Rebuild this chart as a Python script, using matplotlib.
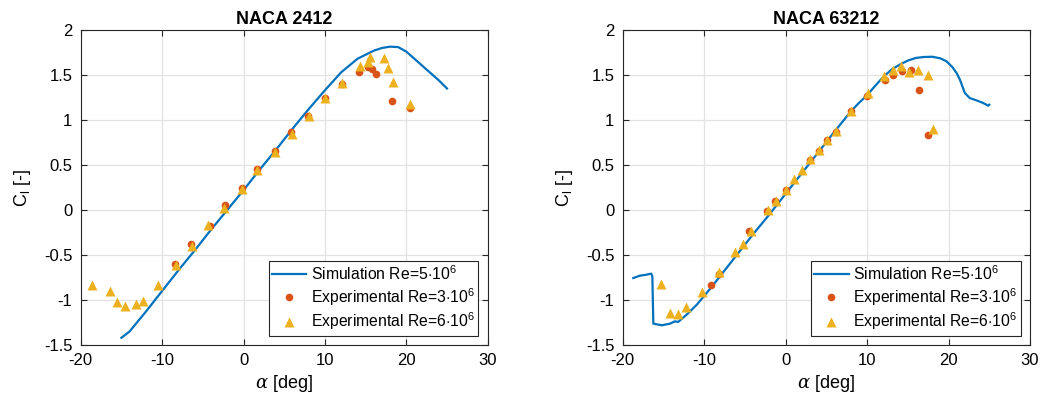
import numpy as np
import matplotlib
matplotlib.use('Agg')
import matplotlib.pyplot as plt

plt.rcParams['font.family'] = ['Liberation Sans', 'DejaVu Sans']
plt.rcParams['mathtext.fontset'] = 'custom'
plt.rcParams['mathtext.rm'] = 'Liberation Sans'
plt.rcParams['mathtext.it'] = 'DejaVu Serif:italic'

# NACA 2412
sim1_a = [-15, -14, -12, -10, -8, -6, -4, -2, 0, 2, 4, 6, 8, 10, 12, 14, 16, 17, 18, 19, 20, 21, 22, 23, 24, 25]
sim1_cl = [-1.42, -1.35, -1.13, -0.9, -0.67, -0.45, -0.22, 0.0, 0.22, 0.45, 0.67, 0.9, 1.12, 1.33, 1.53, 1.68,
           1.77, 1.80, 1.815, 1.81, 1.76, 1.68, 1.60, 1.52, 1.44, 1.35]
exp1_3_a = [-8.43, -6.46, -4.17, -2.33, -0.16, 1.64, 3.84, 5.85, 7.98, 10.02, 12.07, 14.25, 15.27, 15.79, 16.31, 18.25, 20.45]
exp1_3_cl = [-0.60, -0.374, -0.18, 0.052, 0.244, 0.459, 0.652, 0.863, 1.04, 1.248, 1.40, 1.53, 1.593, 1.567, 1.51, 1.21, 1.135]
exp1_6_a = [-18.65, -16.4, -15.58, -14.56, -13.25, -12.31, -10.55, -8.34, -6.34, -4.42, -2.37, -0.16, 1.68, 3.89,
            6.01, 8.02, 10.06, 12.1, 14.3, 15.25, 15.6, 17.23, 17.75, 18.36, 20.45]
exp1_6_cl = [-0.837, -0.904, -1.026, -1.07, -1.044, -1.015, -0.83, -0.615, -0.396, -0.163, 0.022, 0.233, 0.44, 0.648,
             0.848, 1.04, 1.244, 1.41, 1.60, 1.645, 1.70, 1.689, 1.574, 1.42, 1.178]

# NACA 63212
sim2_a = [-18.7, -17.9, -17.1, -16.5, -16.36, -16.24, -15.2, -14.2, -13.6, -13.2, -12.15, -10.9, -9.7, -9, -8, -6, -4,
          -2, 0, 2, 4, 6, 8, 9, 10, 11, 12, 13, 14, 15, 16, 17, 18, 19, 19.75, 20.5, 21, 21.4, 22, 22.6, 23.4, 24.25, 24.87, 25]
sim2_cl = [-0.756, -0.73, -0.719, -0.707, -0.737, -1.263, -1.281, -1.263, -1.237, -1.244, -1.163, -1.052, -0.922,
           -0.845, -0.73, -0.50, -0.27, -0.05, 0.18, 0.41, 0.64, 0.87, 1.095, 1.19, 1.275, 1.38, 1.48, 1.56, 1.615,
           1.66, 1.69, 1.70, 1.703, 1.685, 1.652, 1.585, 1.52, 1.448, 1.30, 1.244, 1.219, 1.189, 1.159, 1.17]
exp2_3_a = [-9.2, -8.18, -4.46, -2.33, -1.27, 0.0, 2.99, 4.13, 5.11, 6.13, 8.02, 9.98, 12.15, 13.21, 14.23, 15.38, 16.4, 17.42]
exp2_3_cl = [-0.83, -0.707, -0.237, -0.007, 0.096, 0.219, 0.559, 0.659, 0.781, 0.867, 1.096, 1.27, 1.448, 1.504,
             1.541, 1.559, 1.33, 0.83]
exp2_6_a = [-15.3, -14.19, -13.25, -12.23, -10.27, -8.18, -6.22, -5.19, -4.25, -2.21, -1.19, 0.04, 1.06, 2.0, 3.03,
            4.13, 5.11, 6.13, 8.02, 10.14, 12.02, 13.17, 14.15, 15.17, 16.28, 17.42, 18.12]
exp2_6_cl = [-0.819, -1.144, -1.152, -1.081, -0.915, -0.689, -0.467, -0.374, -0.237, -0.004, 0.1, 0.219, 0.344,
             0.448, 0.567, 0.67, 0.78, 0.874, 1.104, 1.30, 1.485, 1.559, 1.596, 1.533, 1.552, 1.504, 0.90]

titles = ['NACA 2412', 'NACA 63212']
labels = ['Simulation Re=5$\\cdot$10$^{6}$', 'Experimental Re=3$\\cdot$10$^{6}$', 'Experimental Re=6$\\cdot$10$^{6}$']

fig = plt.figure(figsize=(10.43, 4.04), dpi=100)
ax1 = fig.add_axes([80.7/1043, 59/404, (487.7-80.7)/1043, 315/404])
ax2 = fig.add_axes([622.7/1043, 59/404, (1030-622.7)/1043, 315/404])

datasets = [(sim1_a, sim1_cl, exp1_3_a, exp1_3_cl, exp1_6_a, exp1_6_cl),
            (sim2_a, sim2_cl, exp2_3_a, exp2_3_cl, exp2_6_a, exp2_6_cl)]

for ax, d, t in zip([ax1, ax2], datasets, titles):
    ax.plot(d[0], d[1], color='#0072BD', lw=1.6, label=labels[0], zorder=3)
    ax.plot(d[2], d[3], 'o', color='#D95319', ms=5.5, mec='none', label=labels[1], zorder=4)
    ax.plot(d[4], d[5], '^', color='#EDB120', ms=6.5, mec='none', label=labels[2], zorder=5)
    ax.set_xlim(-20, 30)
    ax.set_ylim(-1.5, 2)
    ax.set_xticks([-20, -10, 0, 10, 20, 30])
    ax.set_yticks([-1.5, -1, -0.5, 0, 0.5, 1, 1.5, 2])
    ax.set_yticklabels(['-1.5', '-1', '-0.5', '0', '0.5', '1', '1.5', '2'])
    ax.set_xticklabels(['-20', '-10', '0', '10', '20', '30'])
    ax.grid(True, color='#e3e3e3', lw=0.9)
    ax.set_axisbelow(True)
    ax.tick_params(direction='in', top=True, right=True, labelsize=12, length=4, color='#262626', pad=6)
    for s in ax.spines.values():
        s.set_color('#262626')
        s.set_linewidth(0.8)
    ax.set_title(t, fontsize=13, fontweight='bold', pad=4)
    ax.set_xlabel('$\\alpha$ [deg]', fontsize=13, labelpad=3)
    ax.set_ylabel('C$_{\\mathrm{l}}$ [-]', fontsize=13, labelpad=8)
    leg = ax.legend(loc='lower right', fontsize=11.3, fancybox=False, framealpha=1, edgecolor='#262626',
                    borderaxespad=0.6, handlelength=2.2, labelspacing=0.2, borderpad=0.2, handletextpad=0.3)
    leg.get_frame().set_linewidth(0.8)

fig.savefig('out.png', dpi=100)
